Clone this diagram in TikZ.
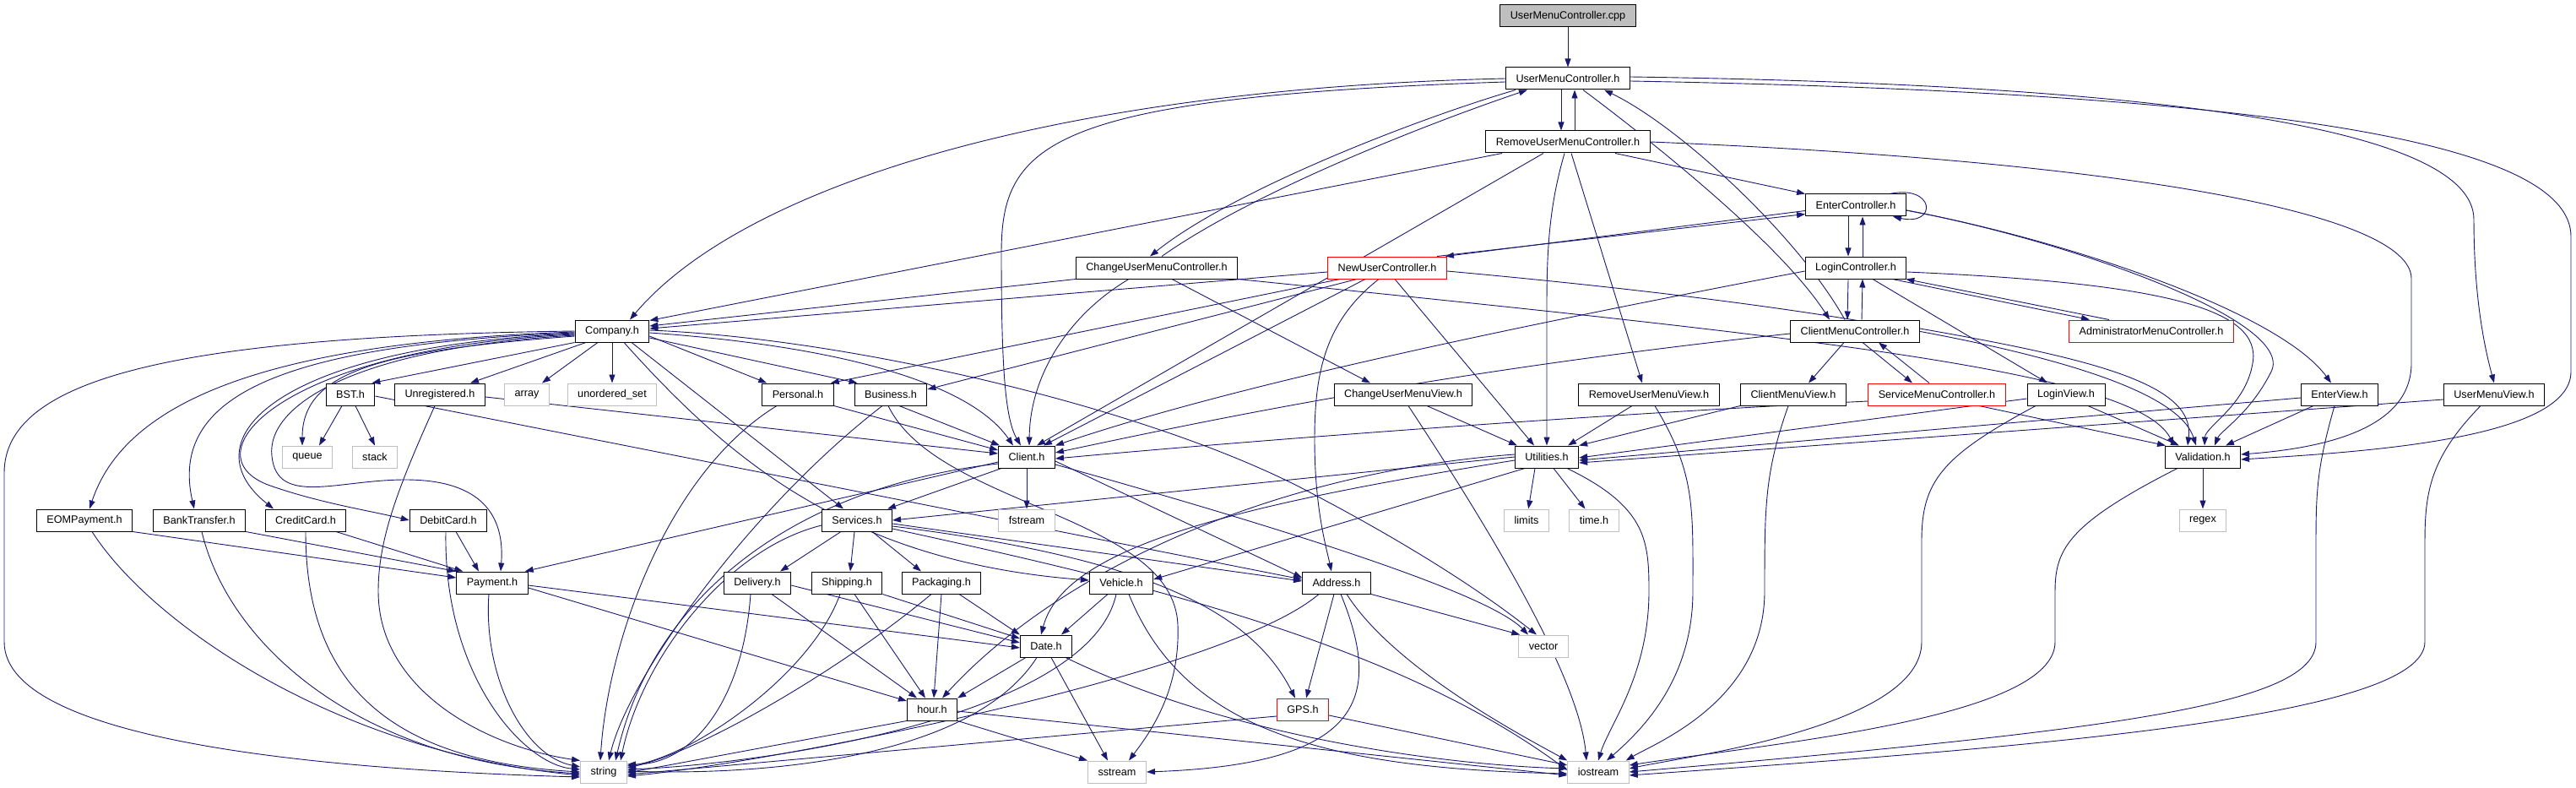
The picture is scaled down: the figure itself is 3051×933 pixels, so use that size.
\documentclass[tikz,border=0pt]{standalone}
\usepackage{fontspec}
\setmainfont{Liberation Sans}
\usetikzlibrary{arrows.meta}
\definecolor{edgec}{HTML}{191970}
\definecolor{grayb}{HTML}{BFBFBF}
\pgfdeclarelayer{bg}
\pgfsetlayers{bg,main}
\begin{document}
\begin{tikzpicture}[x=1pt,y=-1pt,
  box/.style={draw=black,line width=1pt,fill=white,minimum height=26pt,inner xsep=12pt,inner ysep=0pt,font=\fontsize{12.65pt}{15pt}\selectfont},
  ext/.style={box,draw=grayb},
  trunc/.style={box,draw=red},
  rootbox/.style={box,fill=grayb},
  arr/.style={draw=edgec,line width=0.9pt,-{Triangle[length=10pt,width=7pt]}}]
\useasboundingbox (0,0) rectangle (3051,933);
% ---------------- nodes
\node[rootbox] (root) at (1857,19) {UserMenuController.cpp};
\node[box] (umc) at (1857,93) {UserMenuController.h};
\node[box] (rumc) at (1857,168) {RemoveUserMenuController.h};
\node[box] (enterc) at (2198,243) {EnterController.h};
\node[box] (cumc) at (1370,317) {ChangeUserMenuController.h};
\node[trunc] (newuc) at (1643,317) {NewUserController.h};
\node[box] (loginc) at (2198,317) {LoginController.h};
\node[box] (company) at (725,392) {Company.h};
\node[box] (clientmc) at (2197,392) {ClientMenuController.h};
\node[trunc] (admin) at (2548,392) {AdministratorMenuController.h};
\node[box] (bst) at (415,467) {BST.h};
\node[box] (unreg) at (521,467) {Unregistered.h};
\node[ext] (array) at (624,467) {array};
\node[ext] (uset) at (725,467) {unordered\_set};
\node[box] (personal) at (945,467) {Personal.h};
\node[box] (business) at (1055,467) {Business.h};
\node[box] (cumv) at (1662,467) {ChangeUserMenuView.h};
\node[box] (rumv) at (1953,467) {RemoveUserMenuView.h};
\node[box] (cmv) at (2124,467) {ClientMenuView.h};
\node[trunc] (smc) at (2294,467) {ServiceMenuController.h};
\node[box] (loginv) at (2447,467) {LoginView.h};
\node[box] (enterv) at (2771,467) {EnterView.h};
\node[box] (umv) at (2954,467) {UserMenuView.h};
\node[ext] (queue) at (364,541) {queue};
\node[ext] (stack) at (444,541) {stack};
\node[box] (client) at (1216,541) {Client.h};
\node[box] (util) at (1832,541) {Utilities.h};
\node[box] (valid) at (2609,541) {Validation.h};
\node[box] (eom) at (100,616) {EOMPayment.h};
\node[box] (bank) at (236,616) {BankTransfer.h};
\node[box] (credit) at (362,616) {CreditCard.h};
\node[box] (debit) at (531,616) {DebitCard.h};
\node[box] (services) at (1015,616) {Services.h};
\node[ext] (fstream) at (1216,616) {fstream};
\node[ext] (limits) at (1808,616) {limits};
\node[ext] (timeh) at (1888,616) {time.h};
\node[ext] (regex) at (2609,616) {regex};
\node[box] (payment) at (583,690) {Payment.h};
\node[box] (delivery) at (897,690) {Delivery.h};
\node[box] (shipping) at (1003,690) {Shipping.h};
\node[box] (packaging) at (1115,690) {Packaging.h};
\node[box] (vehicle) at (1328,690) {Vehicle.h};
\node[box] (address) at (1583,690) {Address.h};
\node[box] (date) at (1239,765) {Date.h};
\node[ext] (vector) at (1828,765) {vector};
\node[box] (hour) at (1104,840) {hour.h};
\node[trunc] (gps) at (1543,840) {GPS.h};
\node[ext] (string) at (715,914) {string};
\node[ext] (sstream) at (1323,914) {sstream};
\node[ext] (iostream) at (1893,914) {iostream};
% ---------------- edges
\begin{pgfonlayer}{bg}
% top level
\draw[arr] (root) -- (umc);
\draw[arr] ([xshift=-8pt]umc.south) -- ([xshift=-8pt]rumc.north);
\draw[arr] ([xshift=8pt]rumc.north) -- ([xshift=8pt]umc.south);
\draw[arr] ([xshift=-62pt]umc.south) .. controls (1680,140) and (1460,225) .. ([xshift=-8pt]cumc.north);
\draw[arr] ([xshift=6pt]cumc.north) .. controls (1480,230) and (1680,150) .. ([xshift=-48pt]umc.south);
\draw[arr] ([xshift=18pt]umc.south) .. controls (1960,170) and (2110,290) .. ([xshift=-30pt]clientmc.north);
\draw[arr] ([xshift=-12pt]clientmc.north) .. controls (2130,280) and (1990,150) .. ([xshift=43pt]umc.south);
\draw[arr] (umc.west) .. controls (1250,105) and (880,220) .. ([xshift=21pt]company.north);
\draw[arr] ([yshift=-4pt]umc.west) .. controls (1240,115) and (1186,170) .. (1186,300) .. controls (1186,430) and (1190,495) .. ([xshift=-7pt]client.north);
\draw[arr] ([yshift=2pt]umc.east) .. controls (2550,100) and (2930,150) .. (2930,260) .. controls (2930,360) and (2945,420) .. (umv.north);
\draw[arr] ([yshift=-3pt]umc.east) .. controls (2700,110) and (3045,170) .. (3045,280) -- (3045,440) .. controls (3045,520) and (2800,535) .. ([yshift=-3pt]valid.east);
% RemoveUserMenuController
\draw[arr] ([xshift=-78pt]rumc.south) -- ([yshift=-1pt]company.north east);
\draw[arr] ([xshift=-29pt]rumc.south) -- ([xshift=12pt]client.north);
\draw[arr] ([xshift=56pt]rumc.south) -- (enterc.north west);
\draw[arr] ([xshift=4pt]rumc.south) -- ([xshift=-8pt]rumv.north);
\draw[arr] ([xshift=-4pt]rumc.south) .. controls (1836,240) and (1832,290) .. (1832,360) -- (util.north);
\draw[arr] (rumc.east) .. controls (2500,190) and (2856,250) .. (2856,330) -- (2856,430) .. controls (2856,505) and (2760,530) .. ([yshift=3pt]valid.east);
% ChangeUserMenuController
\draw[arr] (cumc.south west) -- ([yshift=6pt]company.east);
\draw[arr] ([xshift=-33pt]cumc.south) .. controls (1270,370) and (1220,440) .. ([xshift=3pt]client.north);
\draw[arr] ([xshift=18pt]cumc.south) -- ([xshift=-39pt]cumv.north);
\draw[arr] (cumc.south east) .. controls (2150,400) and (2530,440) .. ([xshift=-34pt]valid.north);
% NewUserController
\draw[arr] ([xshift=-12pt]newuc.north east) -- ([yshift=3pt]enterc.south west);
\draw[arr] ([yshift=7pt]enterc.south west) -- ([xshift=-2pt]newuc.north east);
\draw[arr] ([yshift=-5pt]newuc.west) -- ([yshift=3pt]company.east);
\draw[arr] ([xshift=-56pt]newuc.south) -- ([xshift=-4pt]personal.north east);
\draw[arr] ([xshift=-36pt]newuc.south) -- ([yshift=6pt]business.east);
\draw[arr] ([xshift=-26pt]newuc.south) -- ([xshift=20pt]client.north);
\draw[arr] ([xshift=-10pt]newuc.south) .. controls (1570,380) and (1557,440) .. (1557,520) .. controls (1557,600) and (1570,645) .. ([xshift=-6pt]address.north);
\draw[arr] ([xshift=9pt]newuc.south) -- ([xshift=-15pt]util.north);
\draw[arr] ([yshift=-4pt]newuc.east) .. controls (2200,365) and (2570,430) .. ([xshift=-8pt]valid.north);
% EnterController
\draw[arr] ([xshift=-20pt]enterc.north east) .. controls (2292,218) and (2295,268) .. ([xshift=-16pt]enterc.south east);
\draw[arr] ([xshift=-9pt]enterc.south) -- ([xshift=-9pt]loginc.north);
\draw[arr] ([xshift=8pt]loginc.north) -- ([xshift=8pt]enterc.south);
\draw[arr] ([yshift=-6pt]enterc.east) .. controls (2450,285) and (2700,370) .. ([xshift=-10pt]enterv.north);
\draw[arr] ([yshift=-6pt]enterc.east) .. controls (2450,285) and (2720,380) .. (2690,440) .. controls (2665,490) and (2630,510) .. ([xshift=14pt]valid.north);
% LoginController
\draw[arr] ([xshift=-9pt]loginc.south) -- ([xshift=-9pt]clientmc.north);
\draw[arr] ([xshift=8pt]clientmc.north) -- ([xshift=8pt]loginc.south);
\draw[arr] ([xshift=-17pt]loginc.south east) -- ([xshift=-73pt]admin.north);
\draw[arr] ([xshift=-50pt]admin.north) -- ([xshift=-1pt]loginc.south east);
\draw[arr] ([yshift=-5pt]loginc.east) .. controls (2560,335) and (2680,365) .. (2668,430) .. controls (2660,480) and (2612,505) .. ([xshift=2pt]valid.north);
\draw[arr] ([xshift=20pt]loginc.south) -- ([xshift=-22pt]loginv.north);
\draw[arr] ([yshift=-4pt]loginc.west) .. controls (1750,395) and (1450,460) .. (client.north east);
% ClientMenuController
\draw[arr] ([yshift=-3pt]clientmc.west) .. controls (1700,440) and (1420,500) .. ([yshift=5pt]client.east);
\draw[arr] ([xshift=-13pt]clientmc.south) -- ([xshift=18pt]cmv.north);
\draw[arr] ([xshift=9pt]clientmc.south) -- ([xshift=-29pt]smc.north);
\draw[arr] ([xshift=-9pt]smc.north) -- ([xshift=28pt]clientmc.south);
\draw[arr] ([yshift=3pt]clientmc.east) .. controls (2480,425) and (2600,455) .. ([xshift=-18pt]valid.north);
% ServiceMenuController
\draw[arr] ([yshift=-8pt]smc.west) .. controls (1900,490) and (1500,520) .. ([yshift=-2pt]client.east);
\draw[arr] ([xshift=50pt]smc.south) -- ([xshift=-44pt]valid.north);
% views
\draw[arr] ([xshift=28pt]cumv.south) -- ([xshift=-35pt]util.north);
\draw[arr] ([xshift=6pt]cumv.south) .. controls (1760,620) and (1870,800) .. ([xshift=-14pt]iostream.north);
\draw[arr] ([xshift=-20pt]rumv.south) -- ([xshift=25pt]util.north);
\draw[arr] ([xshift=7pt]rumv.south) .. controls (2008,560) and (2005,600) .. (2005,700) .. controls (2005,800) and (1950,860) .. ([xshift=10pt]iostream.north);
\draw[arr] (cmv.south west) -- (util.north east);
\draw[arr] ([xshift=-6pt]cmv.south) .. controls (2090,560) and (2090,600) .. (2090,700) .. controls (2090,830) and (1960,880) .. ([xshift=-4pt]iostream.north east);
\draw[arr] ([yshift=-5pt]loginv.west) -- ([yshift=-1pt]util.east);
\draw[arr] ([xshift=26pt]loginv.south) -- ([xshift=-28pt]valid.north);
\draw[arr] ([xshift=-36pt]loginv.south) .. controls (2300,540) and (2276,570) .. (2276,640) -- (2276,760) .. controls (2276,860) and (2000,895) .. ([yshift=4pt]iostream.east);
\draw[arr] ([yshift=-4pt]enterv.west) -- ([yshift=-4pt]util.east);
\draw[arr] ([xshift=-31pt]enterv.south) -- ([xshift=27pt]valid.north);
\draw[arr] ([xshift=-6pt]enterv.south) .. controls (2745,550) and (2743,580) .. (2743,640) -- (2743,760) .. controls (2743,835) and (2500,865) .. (iostream.east);
\draw[arr] ([yshift=-6pt]umv.west) -- ([yshift=-7pt]util.east);
\draw[arr] ([xshift=-16pt]umv.south) .. controls (2880,540) and (2872,580) .. (2872,640) -- (2872,760) .. controls (2872,850) and (2400,885) .. ([yshift=-4pt]iostream.east);
\draw[arr] ([xshift=-30pt]valid.south) .. controls (2450,620) and (2434,650) .. (2434,700) -- (2434,760) .. controls (2434,850) and (2100,880) .. ([yshift=8pt]iostream.east);
\draw[arr] (valid) -- (regex);
% Utilities
\draw[arr] ([xshift=-14pt]util.south) -- (limits);
\draw[arr] ([xshift=8pt]util.south) -- (timeh);
\draw[arr] ([xshift=24pt]util.south) .. controls (1950,600) and (1953,640) .. (1953,700) .. controls (1953,800) and (1905,860) .. (iostream.north);
\draw[arr] (util.west) -- (services.east);
\draw[arr] ([yshift=3pt]util.west) .. controls (1500,560) and (1250,680) .. ([xshift=12pt]hour.north);
\draw[arr] ([yshift=-4pt]util.west) .. controls (1450,600) and (1260,650) .. ([xshift=-6pt]date.north);
\draw[arr] ([xshift=-26pt]util.south) -- ([yshift=4pt]vehicle.east);
% Company
\draw[arr] (company.west) .. controls (200,398) and (5,450) .. (5,560) -- (5,760) .. controls (5,880) and (400,912) .. ([yshift=-6pt]string.west);
\draw[arr] ([yshift=-1pt]company.west) .. controls (330,405) and (150,470) .. ([xshift=6pt]eom.north);
\draw[arr] ([yshift=-2pt]company.west) .. controls (330,408) and (200,470) .. ([xshift=-6pt]bank.north);
\draw[arr] ([yshift=-3pt]company.west) .. controls (330,410) and (220,520) .. ([xshift=-38pt]credit.north);
\draw[arr] ([yshift=-4pt]company.west) .. controls (330,412) and (220,540) .. (320,575) .. controls (380,596) and (440,605) .. (debit.west);
\draw[arr] ([yshift=-5pt]company.west) .. controls (420,412) and (315,480) .. (322,540) .. controls (328,600) and (400,568) .. (480,568) .. controls (570,568) and (598,610) .. ([xshift=10pt]payment.north);
\draw[arr] ([yshift=-6pt]company.west) .. controls (450,415) and (358,440) .. ([xshift=-6pt]queue.north);
\draw[arr] (company.south west) -- ([xshift=-4pt]bst.north east);
\draw[arr] ([xshift=-31pt]company.south) -- ([xshift=36pt]unreg.north);
\draw[arr] ([xshift=-17pt]company.south) -- ([xshift=18pt]array.north);
\draw[arr] (company.south) -- (uset.north);
\draw[arr] ([yshift=-6pt]company.east) -- ([xshift=6pt]personal.north west);
\draw[arr] ([yshift=-8pt]company.east) -- ([xshift=4pt]business.north west);
\draw[arr] ([yshift=-2pt]company.east) .. controls (1000,410) and (1150,455) .. ([xshift=-16pt]client.north);
\draw[arr] ([xshift=23pt]company.south) -- ([xshift=-16pt]services.north);
\draw[arr] ([xshift=14pt]company.south) .. controls (860,540) and (1000,665) .. ([yshift=3pt]vehicle.west);
\draw[arr] ([yshift=1pt]company.east) .. controls (1000,400) and (1350,480) .. (1540,577) .. controls (1700,660) and (1780,720) .. ([xshift=-8pt]vector.north);
% BST, Unregistered, Personal, Business
\draw[arr] ([xshift=-10pt]bst.south) -- ([xshift=14pt]queue.north);
\draw[arr] ([xshift=6pt]bst.south) -- (stack.north);
\draw[arr] ([yshift=-2pt]bst.east) -- ([yshift=4pt]address.west);
\draw[arr] ([yshift=-3pt]unreg.east) -- ([yshift=4pt]client.west);
\draw[arr] ([xshift=-6pt]unreg.south) .. controls (470,580) and (448,640) .. (448,700) .. controls (448,820) and (580,885) .. (string.north west);
\draw[arr] ([xshift=-25pt]personal.south) .. controls (790,560) and (720,760) .. ([xshift=-4pt]string.north);
\draw[arr] (personal.south east) -- ([yshift=8pt]client.west);
\draw[arr] ([xshift=10pt]business.south) -- ([xshift=2pt]client.north west);
\draw[arr] ([xshift=-10pt]business.south) .. controls (890,600) and (745,800) .. ([xshift=6pt]string.north);
\draw[arr] ([xshift=-3pt]business.south) .. controls (1110,600) and (1390,610) .. (1395,740) .. controls (1398,820) and (1360,870) .. ([xshift=14pt]sstream.north);
% Client
\draw[arr] ([xshift=4pt]client.south west) -- ([xshift=-6pt]services.north east);
\draw[arr] (client) -- (fstream);
\draw[arr] ([yshift=-6pt]client.west) -- ([xshift=-4pt]payment.north east);
\draw[arr] ([yshift=-8pt]client.west) .. controls (950,575) and (775,700) .. ([xshift=14pt]string.north);
\draw[arr] ([yshift=-5pt]client.east) -- ([yshift=6pt]address.west);
\draw[arr] ([yshift=-9pt]client.east) .. controls (1500,620) and (1760,700) .. ([xshift=-18pt]vector.north);
% Services
\draw[arr] ([xshift=-19pt]services.south) -- ([xshift=27pt]delivery.north);
\draw[arr] ([xshift=-3pt]services.south) -- ([xshift=4pt]shipping.north);
\draw[arr] ([xshift=18pt]services.south) -- ([xshift=-24pt]packaging.north);
\draw[arr] ([yshift=-6pt]services.west) .. controls (860,650) and (760,780) .. ([xshift=20pt]string.north);
\draw[arr] ([yshift=-4pt]services.east) -- ([yshift=2pt]address.west);
\draw[arr] ([yshift=-7pt]services.east) .. controls (1350,660) and (1480,720) .. ([xshift=-9pt]gps.north);
\draw[arr] ([yshift=-10pt]services.east) .. controls (1350,690) and (1650,760) .. ([yshift=2pt]iostream.west);
% Delivery, Shipping, Packaging, Vehicle
\draw[arr] ([yshift=-3pt]delivery.east) -- ([yshift=4pt]date.west);
\draw[arr] ([xshift=17pt]delivery.south) -- ([xshift=-18pt]hour.north);
\draw[arr] ([xshift=-8pt]delivery.south) .. controls (880,830) and (820,905) .. ([yshift=9pt]string.east);
\draw[arr] (shipping.south east) -- ([yshift=9pt]date.west);
\draw[arr] ([xshift=9pt]shipping.south) -- ([xshift=-8pt]hour.north);
\draw[arr] ([xshift=-8pt]shipping.south) .. controls (960,800) and (820,895) .. ([yshift=7pt]string.east);
\draw[arr] ([xshift=21pt]packaging.south) -- (date.north west);
\draw[arr] (packaging.south) -- ([xshift=2pt]hour.north);
\draw[arr] ([xshift=-12pt]packaging.south) .. controls (1000,790) and (830,890) .. ([yshift=5pt]string.east);
\draw[arr] ([xshift=-16pt]vehicle.south) -- ([xshift=18pt]date.north);
\draw[arr] ([xshift=-6pt]vehicle.south) .. controls (1290,850) and (900,905) .. ([yshift=3pt]string.east);
\draw[arr] ([xshift=9pt]vehicle.south) .. controls (1400,860) and (1560,910) .. ([yshift=-2pt]iostream.west);
% Date, hour, GPS
\draw[arr] ([xshift=-24pt]date.south) -- (hour.north east);
\draw[arr] ([xshift=-11pt]date.south) .. controls (1150,900) and (900,918) .. ([yshift=1pt]string.east);
\draw[arr] ([xshift=6pt]date.south) -- ([xshift=-11pt]sstream.north);
\draw[arr] ([xshift=23pt]date.south) .. controls (1450,870) and (1700,905) .. ([yshift=4pt]iostream.west);
\draw[arr] (hour.south west) -- ([yshift=-1pt]string.east);
\draw[arr] (hour.south east) -- (sstream.north west);
\draw[arr] ([yshift=-2pt]hour.east) -- ([yshift=-4pt]iostream.west);
\draw[arr] ([yshift=-8pt]gps.west) -- ([yshift=-3pt]string.east);
\draw[arr] ([yshift=-7pt]gps.east) -- ([yshift=8pt]iostream.west);
% Address
\draw[arr] ([xshift=-3pt]address.south) -- ([xshift=4pt]gps.north);
\draw[arr] (address.south east) -- ([xshift=2pt]vector.north west);
\draw[arr] ([xshift=12pt]address.south) .. controls (1650,790) and (1800,870) .. (iostream.north west);
\draw[arr] ([xshift=5pt]address.south) .. controls (1640,830) and (1610,905) .. (sstream.east);
\draw[arr] ([xshift=-21pt]address.south) .. controls (1450,800) and (900,905) .. ([yshift=-5pt]string.east);
% Payment group
\draw[arr] ([yshift=-3pt]payment.east) -- ([yshift=-2pt]date.west);
\draw[arr] ([yshift=-6pt]payment.east) -- ([yshift=10pt]hour.west);
\draw[arr] ([xshift=-4pt]payment.south) .. controls (572,800) and (620,895) .. ([yshift=6pt]string.west);
\draw[arr] (eom.south east) -- ([yshift=6pt]payment.west);
\draw[arr] ([xshift=9pt]eom.south) .. controls (180,740) and (400,890) .. ([yshift=-4pt]string.west);
\draw[arr] (bank.south east) -- (payment.north west);
\draw[arr] ([xshift=3pt]bank.south) .. controls (270,760) and (420,900) .. ([yshift=-2pt]string.west);
\draw[arr] ([xshift=36pt]credit.south) -- ([xshift=8pt]payment.north west);
\draw[arr] (credit.south) .. controls (362,800) and (450,900) .. (string.west);
\draw[arr] ([xshift=9pt]debit.south) -- ([xshift=-16pt]payment.north);
\draw[arr] ([xshift=-3pt]debit.south) .. controls (525,800) and (620,905) .. ([yshift=3pt]string.west);
\end{pgfonlayer}
\end{tikzpicture}
\end{document}
